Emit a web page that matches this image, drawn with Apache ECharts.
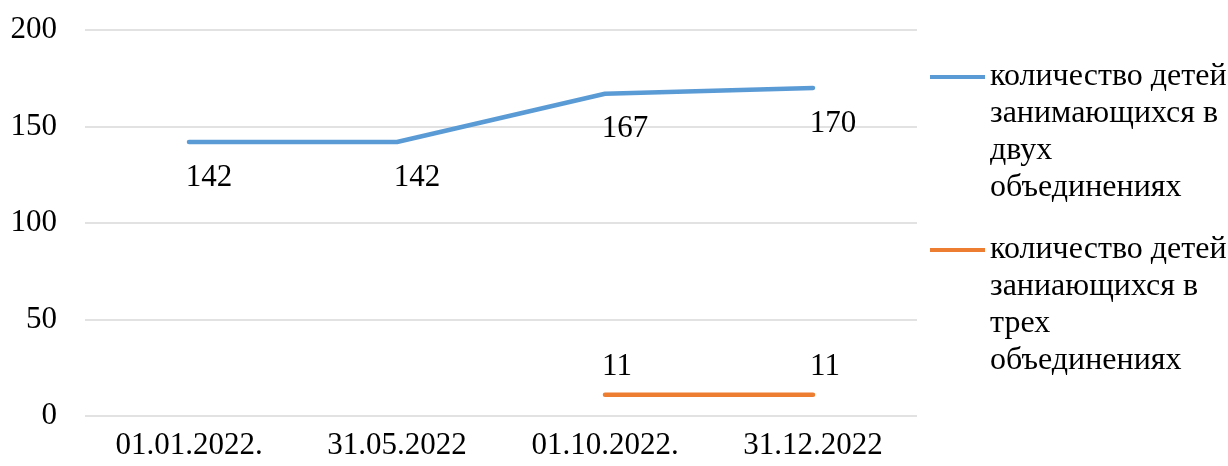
<!DOCTYPE html>
<html>
<head>
<meta charset="utf-8">
<script src="https://cdn.jsdelivr.net/npm/echarts@6/dist/echarts.min.js"></script>
<style>
  html, body { margin: 0; padding: 0; background: #fff; }
  #chart { width: 1228px; height: 466px; }
</style>
</head>
<body>
<div id="chart"></div>
<script>
// даты
const categories = ["01.01.2022.", "31.05.2022", "01.10.2022.", "31.12.2022"];
// количество детей в двух объединениях
const twoGroups = [142, 142, 167, 170];
// количество детей в трех объединениях (первые две точки пустые)
const threeGroups = [null, null, 11, 11];
const yTicks = [0, 50, 100, 150, 200];

const seriesNames = [
  "количество детей\nзанимающихся в\nдвух\nобъединениях",
  "количество детей\nзаниающихся в\nтрех\nобъединениях"
];

const font = "'Liberation Serif', 'Times New Roman', serif";
const lh = 37;

let myChart = echarts.init(document.getElementById("chart"));

function legendAt(name, color, iconY) {
  return {
    data: [name],
    left: 930,
    top: iconY - 3.5 * lh,
    padding: 0,
    icon: "rect",
    itemWidth: 55,
    itemHeight: 4,
    selectedMode: false,
    itemStyle: { color: color },
    // пустые строки сверху, чтобы значок стоял у первой строки
    formatter: n => "\n\n\n" + n,
    textStyle: {
      fontFamily: font,
      fontSize: 32,
      color: "#000",
      lineHeight: lh
    }
  };
}

const labelBase = {
  show: true,
  fontFamily: font,
  fontSize: 31,
  color: "#000"
};

myChart.setOption({
  animation: false,
  grid: { left: 85, right: 311, top: 30, bottom: 50 },
  legend: [
    legendAt(seriesNames[0], "#5b9bd5", 77),
    legendAt(seriesNames[1], "#ed7d31", 250)
  ],
  xAxis: {
    type: "category",
    data: categories,
    boundaryGap: true,
    axisTick: { show: false },
    axisLine: { show: false },
    axisLabel: {
      fontFamily: font,
      fontSize: 31,
      color: "#000",
      margin: 14
    }
  },
  yAxis: {
    type: "value",
    min: yTicks[0],
    max: yTicks[yTicks.length - 1],
    interval: 50,
    axisLine: { show: false },
    axisTick: { show: false },
    axisLabel: {
      fontFamily: font,
      fontSize: 31,
      color: "#000",
      margin: 28
    },
    splitLine: { lineStyle: { color: "#d9d9d9", width: 1.5 } }
  },
  series: [
    {
      name: seriesNames[0],
      type: "line",
      data: twoGroups,
      symbol: "circle",
      symbolSize: 0,
      lineStyle: { color: "#5b9bd5", width: 4.5, cap: "round" },
      itemStyle: { color: "#5b9bd5" },
      label: Object.assign({}, labelBase, {
        position: "bottom",
        distance: 20,
        offset: [20, 0]
      })
    },
    {
      name: seriesNames[1],
      type: "line",
      data: threeGroups,
      symbol: "circle",
      symbolSize: 0,
      connectNulls: false,
      lineStyle: { color: "#ed7d31", width: 4.5, cap: "round" },
      itemStyle: { color: "#ed7d31" },
      label: Object.assign({}, labelBase, {
        position: "top",
        distance: 12,
        offset: [12, 0]
      })
    }
  ]
});
</script>
</body>
</html>
